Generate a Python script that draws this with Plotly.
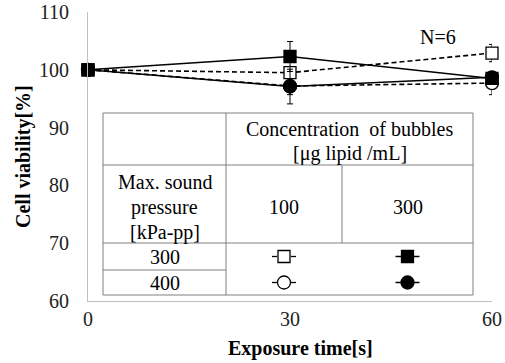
import plotly.graph_objects as go

# ---------------- data ----------------
time_s = [0, 30, 60]
x_ticks = [0, 30, 60]
y_ticks = [60, 70, 80, 90, 100, 110]

# 300 kPa-pp, 100 ug lipid/mL (open square, dashed)
open_sq = [100, 99.5, 102.9]
open_sq_err = [0, 1.0, 1.5]
# 300 kPa-pp, 300 ug lipid/mL (filled square, solid)
filled_sq = [100, 102.3, 98.5]
filled_sq_err = [0, 2.6, 1.0]
# 400 kPa-pp, 100 ug lipid/mL (open circle, dashed)
open_ci = [100, 97.2, 97.7]
open_ci_err = [0, 1.5, 2.0]
# 400 kPa-pp, 300 ug lipid/mL (filled circle, solid)
filled_ci = [100, 97.1, 98.7]
filled_ci_err = [0, 3.0, 1.0]

FONT = "Times New Roman, Liberation Serif, serif"
FS = 20
DASH = "5px,3px"

# plot area in pixels
PL, PR, PT, PB = 88, 492, 12, 301
W, H = 505, 363

fig = go.Figure()

def mk(symbol, filled):
    return dict(symbol=symbol, size=13 if symbol == "circle" else 12,
                color="black" if filled else "white",
                line=dict(color="black", width=1.3))

def add_series(y, err, symbol, filled):
    fig.add_trace(go.Scatter(
        x=time_s, y=y, mode="lines+markers", cliponaxis=False,
        line=dict(color="black", width=1.6, dash="solid" if filled else DASH),
        marker=mk(symbol, filled),
        error_y=dict(type="data", array=err, visible=True, color="black",
                     thickness=1, width=3),
        showlegend=False))

add_series(open_ci, open_ci_err, "circle", False)
add_series(open_sq, open_sq_err, "square", False)
add_series(filled_sq, filled_sq_err, "square", True)
add_series(filled_ci, filled_ci_err, "circle", True)

# ---------------- table (pixel layout on overlay axes) ----------------
TL, TR, TT, TB = 103, 473, 113, 295
C1, C2 = 226, 342
R1, R2, R3 = 165, 243, 270
GRAY = "#808080"

shapes = [
    dict(type="rect", x0=TL, x1=TR, y0=TT, y1=TB, fillcolor="white"),
    dict(type="line", x0=C1, x1=C1, y0=TT, y1=TB),
    dict(type="line", x0=C2, x1=C2, y0=R1, y1=R2),
    dict(type="line", x0=TL, x1=TR, y0=R1, y1=R1),
    dict(type="line", x0=TL, x1=TR, y0=R2, y1=R2),
    dict(type="line", x0=TL, x1=C1, y0=R3, y1=R3),
]
for s in shapes:
    s.update(xref="x2", yref="y2", layer="below", line=dict(color=GRAY, width=1))

ann = []
def txt(x, y, t, size=FS, bold=False, angle=0):
    # x, y in page pixels -> paper coordinates of plot area
    ann.append(dict(x=(x - PL) / (PR - PL), y=(PB - y) / (PB - PT),
                    xref="paper", yref="paper",
                    text=f"<b>{t}</b>" if bold else t,
                    showarrow=False, textangle=angle,
                    font=dict(family=FONT, size=size, color="black"),
                    xanchor="center", yanchor="middle"))

cx_head = (C1 + TR) / 2
txt(cx_head, 129, "Concentration  of bubbles")
txt(cx_head, 153, "[μg lipid /mL]")
cx_first = (TL + C1) / 2
txt(cx_first, 182, "Max. sound")
txt(cx_first, 207, "pressure")
txt(cx_first, 232, "[kPa-pp]")
cx_100 = (C1 + C2) / 2
cx_300 = (C2 + TR) / 2
txt(cx_100, 207, "100")
txt(cx_300, 207, "300")
ry1 = (R2 + R3) / 2
ry2 = (R3 + TB) / 2
txt(cx_first, ry1, "300")
txt(cx_first, ry2, "400")

txt(438, 37, "N=6")

# axis titles
txt(300, 348, "Exposure time[s]", bold=True)
txt(23, 157, "Cell viability[%]", bold=True, angle=-90)

# legend samples inside the table
def sample(cx, cy, symbol, filled):
    if filled:
        fig.add_trace(go.Scatter(x=[cx - 12, cx + 12], y=[cy, cy], mode="lines",
                                 xaxis="x2", yaxis="y2", showlegend=False,
                                 line=dict(color="black", width=1.5)))
    else:
        for a, b in [(-12, -7), (7, 12)]:
            fig.add_trace(go.Scatter(x=[cx + a, cx + b], y=[cy, cy], mode="lines",
                                     xaxis="x2", yaxis="y2", showlegend=False,
                                     line=dict(color="black", width=1.3)))
    fig.add_trace(go.Scatter(x=[cx], y=[cy], mode="markers", xaxis="x2", yaxis="y2",
                             showlegend=False, marker=mk(symbol, filled)))

sample(cx_100, ry1, "square", False)
sample(cx_300, ry1, "square", True)
sample(cx_100, ry2, "circle", False)
sample(cx_300, ry2, "circle", True)

AXC = "#c0c0c0"
fig.update_layout(
    width=W, height=H,
    margin=dict(l=PL, r=W - PR, t=PT, b=H - PB, pad=0, autoexpand=False),
    paper_bgcolor="white", plot_bgcolor="white",
    font=dict(family=FONT, size=FS, color="black"),
    xaxis=dict(range=[0, 60], tickvals=x_ticks, showline=True, linecolor=AXC,
               linewidth=1, showgrid=False, zeroline=False, ticks="", automargin=False,
               tickfont=dict(family=FONT, size=FS, color="#222")),
    yaxis=dict(range=[60, 110], tickvals=y_ticks, showline=True, linecolor=AXC,
               linewidth=1, showgrid=False, zeroline=False, automargin=False,
               ticks="outside", ticklen=14, tickcolor="rgba(0,0,0,0)",
               tickfont=dict(family=FONT, size=FS, color="#222")),
    xaxis2=dict(range=[PL, PR], overlaying="x", visible=False, fixedrange=True),
    yaxis2=dict(range=[PB, PT], overlaying="y", visible=False, fixedrange=True),
    shapes=shapes, annotations=ann,
)

fig.write_html("out.html")
